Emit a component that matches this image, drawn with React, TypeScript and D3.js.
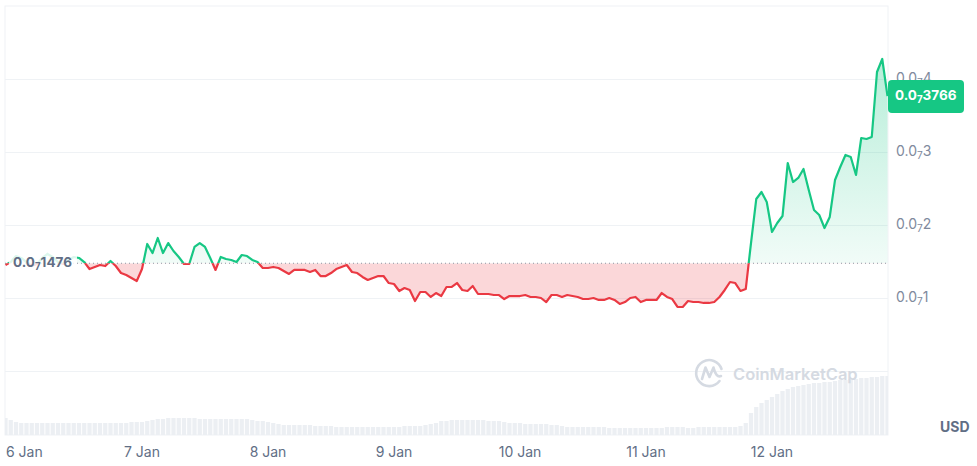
import React from "react";
import * as d3 from "d3";

// ---------- data ----------
const START_UTC = Date.UTC(2025, 0, 5, 22); // 5 Jan 22:00, hourly samples
const HOUR = 3600 * 1000;

// price in units of 0.0₇x (i.e. value shown after the "0.0₇" prefix / 10)
const PRICES = [
  0.1452, 0.1493, 0.1575, 0.1548, 0.1493, 0.1438, 0.1466, 0.1548, 0.1603, 0.1562, 0.1493, 0.1466, 0.1521, 0.1562,
  0.1548, 0.1493, 0.1397, 0.1425, 0.1452, 0.1438, 0.1507, 0.1438, 0.1342, 0.1315, 0.1274, 0.1233,
  0.1397, 0.1740, 0.1616, 0.1822, 0.1616, 0.1753, 0.1644, 0.1562, 0.1466, 0.1466, 0.1699, 0.1753,
  0.1699, 0.1548, 0.1384, 0.1562, 0.1534, 0.1521, 0.1493, 0.1589, 0.1575, 0.1521, 0.1493, 0.1411,
  0.1411, 0.1425, 0.1411, 0.1370, 0.1329, 0.1384, 0.1384, 0.1384, 0.1356, 0.1384, 0.1301, 0.1301,
  0.1342, 0.1397, 0.1425, 0.1452, 0.1356, 0.1342, 0.1288, 0.1247, 0.1274, 0.1301, 0.1301, 0.1205,
  0.1192, 0.1096, 0.1137, 0.1110, 0.0959, 0.1082, 0.1082, 0.1014, 0.1068, 0.1027, 0.1151, 0.1151,
  0.1205, 0.1110, 0.1096, 0.1164, 0.1055, 0.1055, 0.1055, 0.1041, 0.1041, 0.0986, 0.1027, 0.1027,
  0.1027, 0.1041, 0.1014, 0.1014, 0.1000, 0.0945, 0.1041, 0.1041, 0.1014, 0.1041, 0.1027, 0.1014,
  0.0986, 0.0986, 0.1000, 0.0973, 0.0973, 0.1000, 0.0973, 0.0918, 0.0945, 0.1000, 0.1014, 0.0945,
  0.0973, 0.0973, 0.0973, 0.1068, 0.1014, 0.0986, 0.0877, 0.0877, 0.0959, 0.0945, 0.0945, 0.0932,
  0.0932, 0.0945, 0.1014, 0.1110, 0.1219, 0.1205, 0.1096, 0.1123, 0.1753, 0.2356, 0.2452, 0.2315,
  0.1904, 0.2027, 0.2123, 0.2849, 0.2589, 0.2644, 0.2767, 0.2479, 0.2205, 0.2137, 0.1959, 0.2110,
  0.2616, 0.2795, 0.2959, 0.2932, 0.2685, 0.3192, 0.3178, 0.3205, 0.4096, 0.4274, 0.3766,
];

const VOLUMES = [
  17, 15, 13,
  12, 12, 12, 12, 12, 12, 12, 12, 12, 12, 12, 12, 12, 12, 12, 12, 12, 12, 12, 12, 12, 13, 13,
  13,
  14, 15,
  16, 16, 17, 17, 17, 17, 17, 17, 16, 16, 16, 16, 16, 16, 16, 16, 16, 16,
  15, 14, 14,
  13, 12, 11,
  10, 10, 10, 10, 10, 10, 9, 9, 9, 9,
  8, 8, 8, 8, 8, 8, 8, 8, 8, 8, 8, 8, 8,
  9, 9, 9, 9, 10, 11, 12,
  14, 14, 15, 15, 15, 15, 15, 15, 15, 14, 14, 14, 13,
  12, 12, 12, 11, 11, 11, 11, 11, 10, 10, 9,
  8, 8, 8, 8, 8, 8, 8, 8, 7, 7, 7, 7, 7, 7, 7, 7, 7, 7, 7, 8, 8, 8, 8, 7, 7, 8, 8, 8, 8, 8, 8, 8, 8,
  9, 12,
  22, 28, 32, 35, 38, 41, 44, 46, 48, 49, 50,
  51, 52, 52, 53, 53, 54, 55,
  55, 56, 56, 57, 57, 58, 58, 59, 59,
];

const Y_TICKS = [0.1, 0.2, 0.3, 0.4];
const X_TICK_DAYS = [6, 7, 8, 9, 10, 11, 12];
const X_TICK_LABELS = ["6 Jan", "7 Jan", "8 Jan", "9 Jan", "10 Jan", "11 Jan", "12 Jan"];
const OPEN_PRICE = 0.1476;
const ZERO_COUNT = "7";

// ---------- style ----------
const W = 977;
const H = 466;
const PLOT_L = 5;
const PLOT_R = 888;
const PLOT_T = 6;
const PLOT_B = 435;
const GREEN = "#16c784";
const RED = "#ea3943";
const GRID = "#eff2f5";
const FONT = "Inter, 'Noto Sans', sans-serif";

function SubNum({ x, y, rest, size, weight, fill, anchor }: any) {
  return (
    <text x={x} y={y} fontSize={size} fontWeight={weight} fill={fill} fontFamily={FONT} textAnchor={anchor || "start"} dominantBaseline="middle">
      <tspan>0.0</tspan>
      <tspan dy={4} fontSize={size * 0.72}>{ZERO_COUNT}</tspan>
      <tspan dy={-4}>{rest}</tspan>
    </text>
  );
}

export default function App() {
  const data = PRICES.map((v, i) => ({ t: new Date(START_UTC + i * HOUR), v, vol: VOLUMES[i] }));
  const x = d3
    .scaleUtc()
    .domain([new Date(START_UTC), new Date(START_UTC + (PRICES.length - 1) * HOUR)])
    .range([5.5, 887.5]);
  const y = d3.scaleLinear().domain([0, 0.5]).range([371, PLOT_T]);
  const yVol = d3.scaleLinear().domain([0, 60]).range([PLOT_B, 375]);
  const baseY = y(OPEN_PRICE);

  const line = d3
    .line<any>()
    .x((d) => x(d.t))
    .y((d) => y(d.v));
  const area = d3
    .area<any>()
    .x((d) => x(d.t))
    .y0(baseY)
    .y1((d) => y(d.v));

  const last = data[data.length - 1];
  const lastY = y(last.v);
  const barW = x(new Date(START_UTC + HOUR)) - x(new Date(START_UTC)) - 1;

  return (
    <svg width={W} height={H} style={{ position: "absolute", left: 0, top: 0, background: "#fff" }}>
      <defs>
        <clipPath id="plot">
          <rect x={PLOT_L} y={PLOT_T} width={PLOT_R - PLOT_L} height={PLOT_B - PLOT_T} />
        </clipPath>
        <clipPath id="above">
          <rect x={0} y={0} width={W} height={baseY} />
        </clipPath>
        <clipPath id="below">
          <rect x={0} y={baseY} width={W} height={H - baseY} />
        </clipPath>
        <linearGradient id="gfill" gradientUnits="userSpaceOnUse" x1={0} y1={50} x2={0} y2={baseY}>
          <stop offset="0" stopColor={GREEN} stopOpacity={0.32} />
          <stop offset="1" stopColor={GREEN} stopOpacity={0.06} />
        </linearGradient>
      </defs>

      {/* frame */}
      <rect x={PLOT_L} y={PLOT_T} width={PLOT_R - PLOT_L} height={PLOT_B - PLOT_T} fill="none" stroke={GRID} strokeWidth={1} />
      {/* grid */}
      {[0, ...Y_TICKS].map((t) => (
        <line key={t} x1={PLOT_L} x2={PLOT_R} y1={Math.round(y(t)) + 0.5} y2={Math.round(y(t)) + 0.5} stroke={GRID} strokeWidth={1} />
      ))}

      {/* volume */}
      <g clipPath="url(#plot)">
        {data.map((d, i) => (
          <rect key={i} x={x(d.t) - barW / 2} y={yVol(d.vol)} width={barW} height={PLOT_B - yVol(d.vol)} fill="#eceff3" />
        ))}
      </g>

      {/* watermark */}
      <g>
        <path d="M 719.5 381 A 13 13 0 1 1 721.5 369" fill="none" stroke="#d5dae2" strokeWidth={2.6} strokeLinecap="round" />
        <path d="M 702 379 L 705.5 367.5 L 709.5 377 L 713.5 367.5 Q 716 378 721 376" fill="none" stroke="#d5dae2" strokeWidth={2.6} strokeLinecap="round" strokeLinejoin="round" />
        <text x={733} y={380} fontSize={16.5} fontWeight={600} fill="#d5dae2" fontFamily={FONT}>
          CoinMarketCap
        </text>
      </g>

      {/* areas */}
      <g clipPath="url(#plot)">
        <path d={area(data) || ""} fill="url(#gfill)" clipPath="url(#above)" />
        <path d={area(data) || ""} fill={RED} fillOpacity={0.2} clipPath="url(#below)" />
      </g>

      {/* baseline */}
      <line x1={PLOT_L} x2={PLOT_R} y1={baseY} y2={baseY} stroke="#8d95a3" strokeWidth={1} strokeDasharray="1 3" />

      {/* lines */}
      <path d={line(data) || ""} fill="none" stroke={GREEN} strokeWidth={2.2} strokeLinejoin="round" clipPath="url(#above)" />
      <path d={line(data) || ""} fill="none" stroke={RED} strokeWidth={2.2} strokeLinejoin="round" clipPath="url(#below)" />

      {/* open price label */}
      <rect x={9} y={baseY - 11} width={68} height={22} fill="#fff" fillOpacity={0.85} />
      <SubNum x={13} y={baseY} rest={String(Math.round(OPEN_PRICE * 10000))} size={13.5} weight={700} fill="#616e85" />

      {/* y axis labels */}
      {Y_TICKS.map((t) => (
        <SubNum key={t} x={896} y={y(t)} rest={String(Math.round(t * 10))} size={14} weight={400} fill="#808a9d" />
      ))}

      {/* last price label */}
      <rect x={888} y={lastY - 16} width={76} height={33} rx={4} fill={GREEN} />
      <SubNum x={895} y={lastY} rest={String(Math.round(last.v * 10000))} size={13.5} weight={700} fill="#fff" />

      {/* x axis labels */}
      {X_TICK_DAYS.map((day, i) => {
        const tx = x(new Date(Date.UTC(2025, 0, day)));
        const first = i === 0;
        return (
          <text key={day} x={first ? 6 : tx} y={453} fontSize={14} fill="#616e85" fontFamily={FONT} textAnchor={first ? "start" : "middle"} dominantBaseline="middle">
            {X_TICK_LABELS[i]}
          </text>
        );
      })}

      <text x={940} y={428} fontSize={14} fontWeight={700} fill="#616e85" fontFamily={FONT} dominantBaseline="middle">
        USD
      </text>
    </svg>
  );
}
